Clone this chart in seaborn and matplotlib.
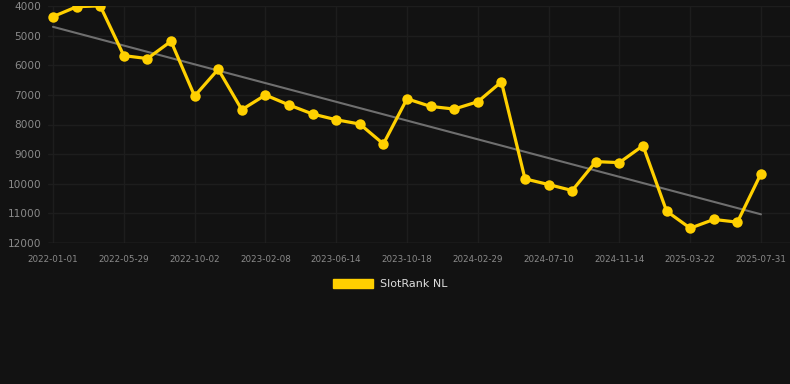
import matplotlib
matplotlib.use('Agg')
import matplotlib.pyplot as plt
import numpy as np
import pandas as pd
import seaborn as sns
from matplotlib.patches import Patch

# snapshot dates (only every third one is labelled on the axis)
dates = ['2022-01-01', '2022-02-19', '2022-04-09', '2022-05-29', '2022-07-10', '2022-08-21',
         '2022-10-02', '2022-11-16', '2022-12-24', '2023-02-08', '2023-03-21', '2023-05-03',
         '2023-06-14', '2023-07-26', '2023-09-06', '2023-10-18', '2023-12-01', '2024-01-15',
         '2024-02-29', '2024-04-13', '2024-05-27', '2024-07-10', '2024-08-23', '2024-10-02',
         '2024-11-14', '2024-12-27', '2025-02-08', '2025-03-22', '2025-05-06', '2025-06-18',
         '2025-07-31']
ranks = [4360, 4025, 3995, 5675, 5775, 5190, 7040, 6135, 7500, 7005, 7340, 7646,
         7840, 7985, 8656, 7132, 7390, 7478, 7232, 6560, 9835, 10027, 10229, 9253,
         9286, 8714, 10926, 11500, 11205, 11296, 9657]
tick_labels = ['2022-01-01', '2022-05-29', '2022-10-02', '2023-02-08', '2023-06-14', '2023-10-18',
               '2024-02-29', '2024-07-10', '2024-11-14', '2025-03-22', '2025-07-31']

df = pd.DataFrame({'date': dates, 'rank': ranks})
df['pos'] = np.arange(len(df))

# linear trend over the series
slope, intercept = np.polyfit(df['pos'], df['rank'], 1)
df['trend'] = slope * df['pos'] + intercept

bg = '#121212'
sns.set_theme(style='dark')
plt.rcParams['font.family'] = ['DejaVu Sans']

fig = plt.figure(figsize=(7.9, 3.84), dpi=100, facecolor=bg)
ax = fig.add_axes([48 / 790, 1 - 243 / 384, 1 - 48 / 790, (243 - 6) / 384])
ax.set_facecolor(bg)

sns.lineplot(data=df, x='pos', y='trend', ax=ax, color='#6f6f6f', linewidth=1.5)
sns.lineplot(data=df, x='pos', y='rank', ax=ax, color='#ffd000', linewidth=2.3,
             marker='o', markersize=7.5, markeredgewidth=0)

ax.set_ylim(12000, 4000)
ax.set_yticks(range(4000, 12001, 1000))
ax.set_xlim(-5 / 23.6, len(df) - 1 + 29 / 23.6)
tick_pos = [dates.index(t) for t in tick_labels]
ax.set_xticks(tick_pos)
ax.set_xticklabels(tick_labels)

ax.grid(True, color='#1d1d1d', linewidth=1)
for s in ax.spines.values():
    s.set_visible(False)
ax.axhline(12000, color='#2e2e2e', linewidth=1)
ax.tick_params(axis='y', colors='#8a8a8a', labelsize=7.6, length=0, pad=5)
ax.tick_params(axis='x', colors='#8a8a8a', labelsize=6.3, length=0, pad=9)
ax.set_xlabel('')
ax.set_ylabel('')

fig.legend(handles=[Patch(facecolor='#ffd000', edgecolor='#ffd000')], labels=['SlotRank NL'],
           loc='center', bbox_to_anchor=(0.494, 1 - 284 / 384), frameon=False,
           handlelength=3.6, handleheight=0.9, fontsize=8, labelcolor='#dddddd', handletextpad=0.6)

fig.savefig('out.png', dpi=100, facecolor=bg)
